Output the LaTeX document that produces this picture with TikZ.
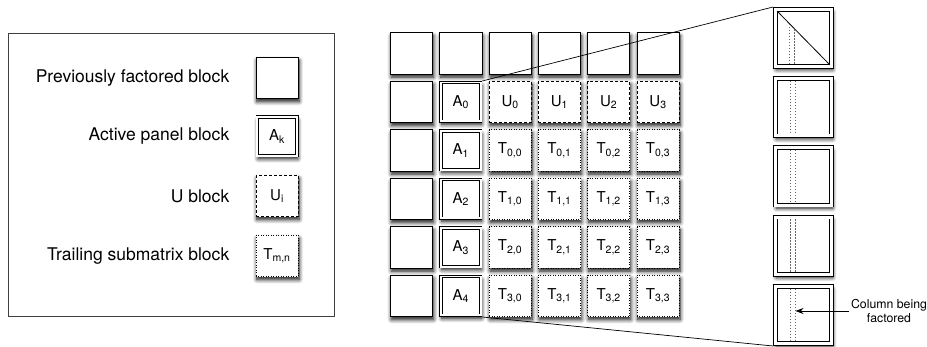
\documentclass[tikz,border=0pt]{standalone}
\usepackage{fontspec}
\setmainfont{TeX Gyre Heros}
\usetikzlibrary{calc}
\usetikzlibrary{positioning}
\usetikzlibrary{shadows.blur}
\usetikzlibrary{arrows.meta}

\tikzset{
  blkshadow/.style={blur shadow={shadow xshift=1pt,shadow yshift=-3pt,shadow blur radius=4pt,shadow blur steps=8,shadow opacity=95}},
  prevblk/.style={draw,line width=0.8pt,fill=white,minimum width=42.2pt,minimum height=41.2pt,inner sep=0pt,blkshadow,font=\fontsize{15}{17}\selectfont},
  actblk/.style={prevblk,double,double distance=1.8pt,line width=0.7pt,minimum width=39.8pt,minimum height=38.8pt,outer sep=1.6pt},
  ublk/.style={prevblk,dash pattern=on 3pt off 2pt},
  tblk/.style={prevblk,dash pattern=on 1pt off 1.5pt},
  zoomblk/.style={draw,fill=white,double,double distance=3pt,line width=0.8pt,minimum width=56.4pt,minimum height=57.4pt,inner sep=0pt,outer sep=2.3pt,blkshadow},
  legtext/.style={inner sep=0pt,font=\fontsize{17.5}{20}\selectfont},
  colline/.style={black!60,line width=1pt,dash pattern=on 1.2pt off 1.8pt},
  zoomline/.style={line width=0.7pt}
}

\begin{document}
\begin{tikzpicture}[x=1pt,y=-1pt]
    \useasboundingbox (0,0) rectangle (927,347);

    % legend
    \draw[line width=0.8pt,draw=black!75] (8,33) rectangle (334,316);
    \node[prevblk] (lprev) at (277,78) {};
    \node[actblk] (lact) at (277,136.5) {A\textsubscript{k}};
    \node[ublk] (lu) at (277,196) {U\textsubscript{i}};
    \node[tblk] (lt) at (277,256) {T\textsubscript{m,n}};
    \node[legtext,left=26pt of lprev] (tprev) {Previously factored block};
    \node[legtext,left=26pt of lact] (tact) {Active panel block};
    \node[legtext,left=26pt of lu] (tu) {U block};
    \node[legtext,left=26pt of lt] (tt) {Trailing submatrix block};

    % matrix of blocks
    \foreach \c in {0,...,5}
        \node[prevblk] (b0\c) at (411.5+49.3*\c,53.5) {};
    \foreach \r in {1,...,5} {
        \pgfmathtruncatemacro{\k}{\r-1}
        \node[prevblk] (b\r0) at (411.5,53.5+48.5*\r) {};
        \node[actblk] (b\r1) at (460.8,53.5+48.5*\r) {A\textsubscript{\k}};
    }
    \foreach \c in {2,...,5} {
        \pgfmathtruncatemacro{\j}{\c-2}
        \node[ublk] (b1\c) at (411.5+49.3*\c,102) {U\textsubscript{\j}};
        \foreach \r in {2,...,5} {
            \pgfmathtruncatemacro{\i}{\r-2}
            \node[tblk] (b\r\c) at (411.5+49.3*\c,53.5+48.5*\r) {T\textsubscript{\i,\j}};
        }
    }

    % zoomed panel
    \foreach \i in {0,...,4}
        \node[zoomblk] (z\i) at (803.5,38+69.25*\i) {};
    \draw[zoomline] (b11.north east) -- (z0.north west);
    \draw[zoomline] (b51.south east) -- (z4.south west);

    \coordinate (d1) at ([shift={(4.2pt,-4.2pt)}]z0.north west);
    \coordinate (d2) at ([shift={(-4.2pt,4.2pt)}]z0.south east);
    \draw[line width=0.8pt] (d1) -- (d2);
    \coordinate (c1) at ($(d1)!0.243!(d2)$);
    \coordinate (c2) at ($(d1)!0.338!(d2)$);
    \draw[colline] (c1) -- (c1 |- d2);
    \draw[colline] (c2) -- (c2 |- d2);
    \foreach \i in {1,...,4} {
        \draw[colline] ([xshift=17pt,yshift=-4.6pt]z\i.north west) -- ([xshift=17pt,yshift=4.6pt]z\i.south west);
        \draw[colline] ([xshift=22pt,yshift=-4.6pt]z\i.north west) -- ([xshift=22pt,yshift=4.6pt]z\i.south west);
    }

    \node[font=\fontsize{12.3}{13.5}\selectfont,align=center,inner sep=1.5pt] (collab) at (889,311) {Column being\\factored};
    \coordinate (colpt) at ([xshift=22.5pt,yshift=4pt]z4.west);
    \draw[-{Stealth[length=8pt,width=6pt]},line width=0.8pt] (collab.west) -- (colpt);
\end{tikzpicture}
\end{document}
